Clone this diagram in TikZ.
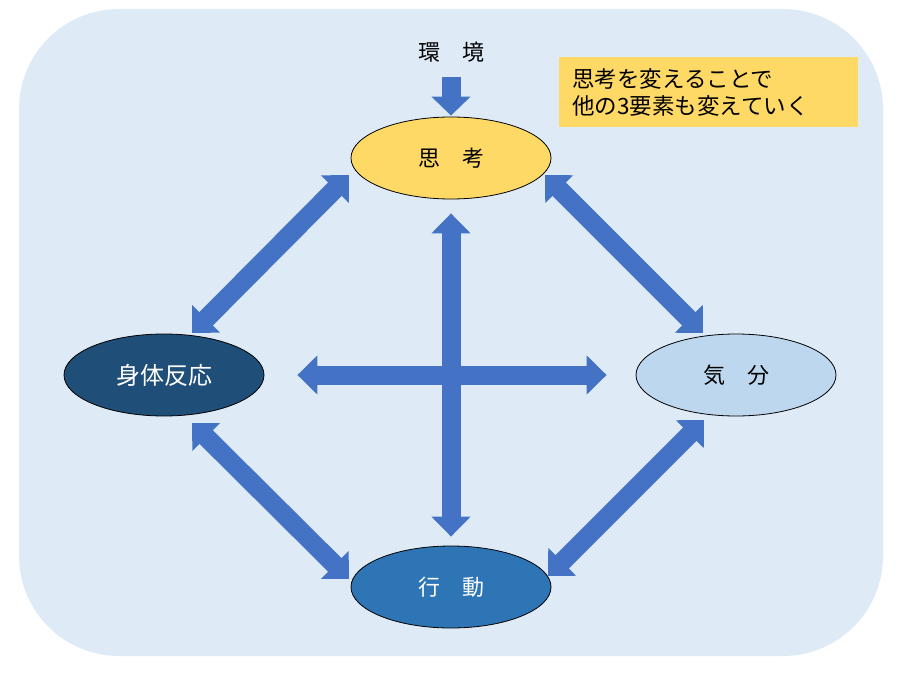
\documentclass[tikz,border=0pt]{standalone}
\usepackage{fontspec}
\setmainfont{Noto Sans CJK JP}
\usetikzlibrary{arrows.meta,shapes.geometric}
\definecolor{bgblue}{HTML}{DEEBF7}
\definecolor{arrowblue}{HTML}{4472C4}
\definecolor{thinkyellow}{HTML}{FFD966}
\definecolor{bodyblue}{HTML}{1F4E79}
\definecolor{moodblue}{HTML}{BDD7EE}
\definecolor{actblue}{HTML}{2E75B6}
\begin{document}
\begin{tikzpicture}[x=1pt,y=-1pt,
	state/.style={ellipse, draw=black, line width=0.8pt, minimum width=200pt, minimum height=82pt, inner sep=0pt, font=\fontsize{22}{26}\selectfont},
	link/.style={draw=arrowblue, line width=19pt, {Triangle[length=20pt,width=38pt]}-{Triangle[length=20pt,width=38pt]}},
	feed/.style={draw=arrowblue, line width=19pt, -{Triangle[length=19pt,width=38pt]}}]
	\useasboundingbox (0,0) rectangle (902,674);
	\fill[bgblue, rounded corners=100pt] (19,9) rectangle (883,656);
	% the four states
	\node[state, fill=thinkyellow] (tk) at (451,158) {思　考};
	\node[state, fill=bodyblue, text=white, font=\fontsize{24}{28}\selectfont] (sh) at (164,375) {身体反応};
	\node[state, fill=moodblue] (kb) at (736,375) {気　分};
	\node[state, fill=actblue, text=white] (kd) at (451,587) {行　動};
	\node[font=\fontsize{22}{26}\selectfont] (env) at (451,52) {環　境};
	\node[anchor=north west, fill=thinkyellow, minimum width=299pt, minimum height=70pt, text width=273pt, inner xsep=13pt, align=left, font=\fontsize{22.5}{27}\selectfont] (note) at (559,57) {思考を変えることで\\他の3要素も変えていく};
	% arrows
	\draw[feed, shorten <=25pt, shorten >=1pt] (env.center) -- (tk);
	\draw[link] ([shift={(-102,17)}]tk.center) -- ([shift={(28,-42)}]sh.center);
	\draw[link] ([shift={(94,17)}]tk.center) -- ([shift={(-33,-42)}]kb.center);
	\draw[link] ([shift={(28,48)}]sh.center) -- ([shift={(-102,-8)}]kd.center);
	\draw[link] ([shift={(-32,45)}]kb.center) -- ([shift={(97,-11)}]kd.center);
	\draw[link, shorten <=14pt, shorten >=9pt] (tk) -- (kd);
	\draw[link, shorten <=33pt, shorten >=29pt] (sh) -- (kb);
\end{tikzpicture}
\end{document}
